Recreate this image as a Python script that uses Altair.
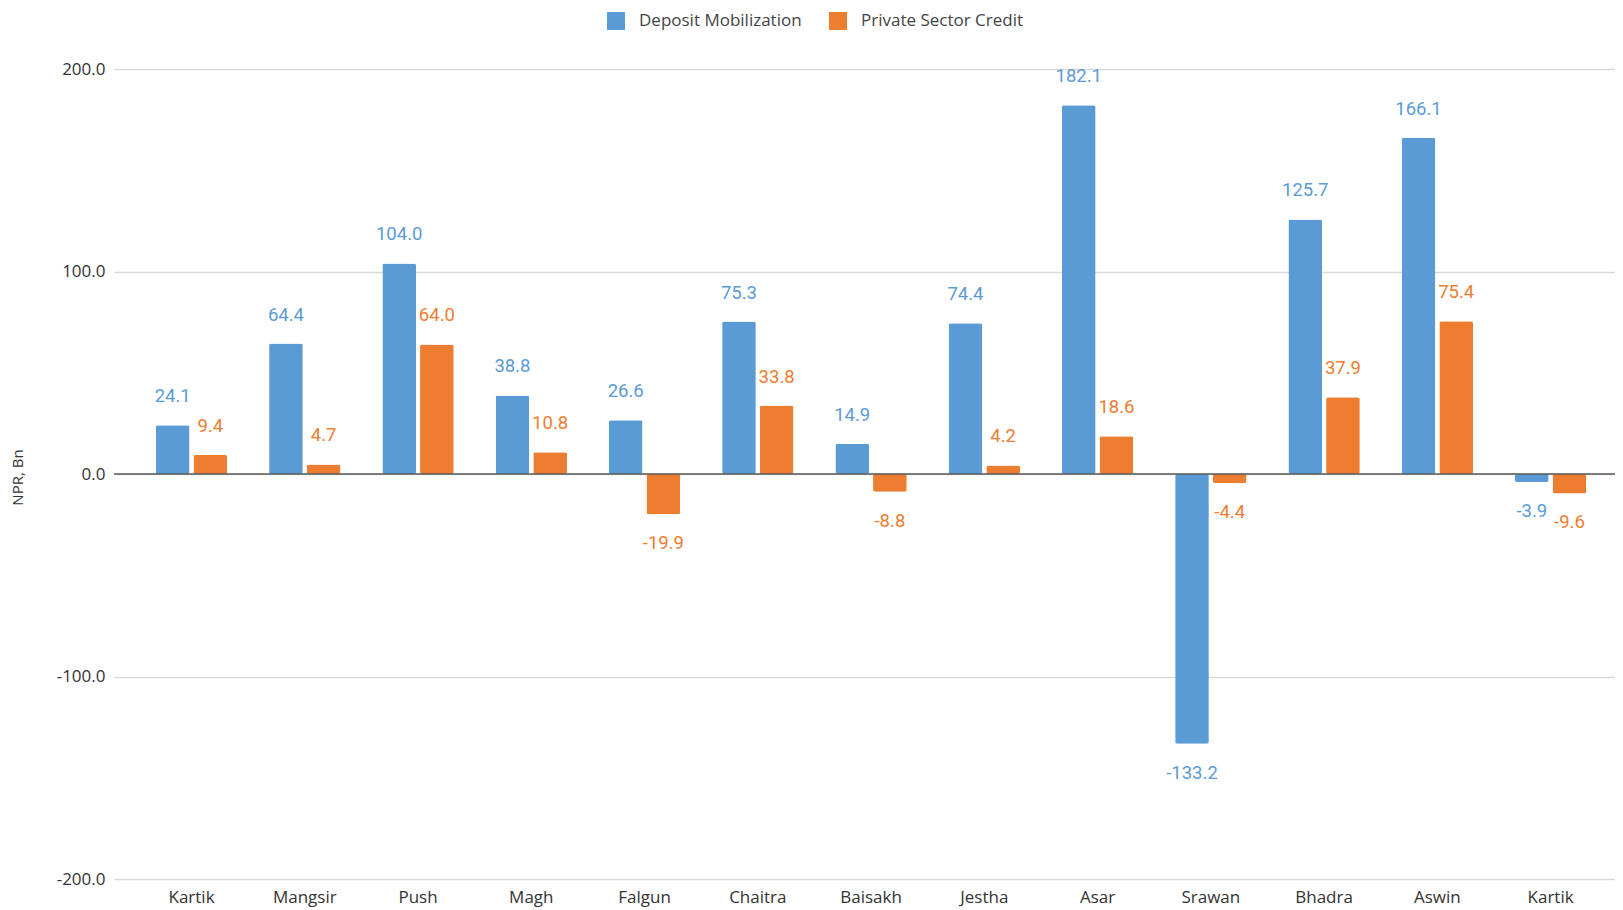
import altair as alt
import pandas as pd

months = ["Kartik", "Mangsir", "Push", "Magh", "Falgun", "Chaitra", "Baisakh",
          "Jestha", "Asar", "Srawan", "Bhadra", "Aswin", "Kartik"]
deposit = [24.1, 64.4, 104.0, 38.8, 26.6, 75.3, 14.9, 74.4, 182.1, -133.2, 125.7, 166.1, -3.9]
credit = [9.4, 4.7, 64.0, 10.8, -19.9, 33.8, -8.8, 4.2, 18.6, -4.4, 37.9, 75.4, -9.6]
series = ["Deposit Mobilization", "Private Sector Credit"]
colors = ["#5B9BD5", "#ED7D31"]
y_ticks = [-200, -100, 0, 100, 200]

keys = [f"{i:02d} {m}" for i, m in enumerate(months)]
rows = []
for i, k in enumerate(keys):
    rows.append(dict(key=k, series=series[0], value=deposit[i]))
    rows.append(dict(key=k, series=series[1], value=credit[i]))
df = pd.DataFrame(rows)

MINUS = "\u2212"

x = alt.X("key:N", sort=keys,
          scale=alt.Scale(paddingInner=0.37, paddingOuter=0.3115, align=0.593),
          axis=alt.Axis(title=None, labelExpr="slice(datum.label, 3)", labelAngle=0,
                        ticks=False, domain=False, labelPadding=10, labelFontSize=17,
                        labelColor="#333333", labelFont="Open Sans", grid=False))
xo = alt.XOffset("series:N", sort=series, scale=alt.Scale(paddingInner=0.106, paddingOuter=0))
y = alt.Y("value:Q", scale=alt.Scale(domain=[-200, 200], nice=False),
          axis=alt.Axis(values=y_ticks, title="NPR, Bn", ticks=False,
                        labelExpr=f"replace(format(datum.value, '.1f'), '{MINUS}', '-')",
                        domain=False, labelPadding=9, labelFontSize=17,
                        labelColor="#333333", labelFont="Open Sans",
                        gridColor="#D9D9D9", gridWidth=1.5))
color_scale = alt.Scale(domain=series, range=colors)

base = alt.Chart(df).transform_calculate(
    label=f"replace(format(datum.value, '.1f'), '{MINUS}', '-')"
)

bars = base.mark_bar(cornerRadius=2).encode(
    x=x, xOffset=xo, y=y,
    color=alt.Color("series:N", scale=color_scale,
                    legend=alt.Legend(orient="none", legendX=493, legendY=-57,
                                      direction="horizontal", title=None,
                                      symbolType="square", symbolSize=324,
                                      symbolStrokeWidth=0, labelFontSize=17,
                                      labelFont="Open Sans", labelColor="#444444",
                                      labelLimit=400,
                                      columnPadding=27, labelOffset=14)),
)

zero = alt.Chart(pd.DataFrame({"v": [0]})).mark_rule(color="#595959", strokeWidth=1.5).encode(
    y=alt.Y("v:Q")
)

pos_text = base.transform_filter("datum.value >= 0").mark_text(
    dy=-29, baseline="middle", font="Roboto", fontSize=18.5
).encode(
    x=x, xOffset=xo, y=y,
    text=alt.Text("label:N"),
    color=alt.Color("series:N", scale=color_scale, legend=None),
)
neg_text = base.transform_filter("datum.value < 0").mark_text(
    dy=29, baseline="middle", font="Roboto", fontSize=18.5
).encode(
    x=x, xOffset=xo, y=y,
    text=alt.Text("label:N"),
    color=alt.Color("series:N", scale=color_scale, legend=None),
)

chart = alt.layer(bars, zero, pos_text, neg_text).properties(
    width=1501, height=810,
    autosize=alt.AutoSizeParams(type="none"),
    padding={"left": 106, "top": 61, "right": 0, "bottom": 30},
    background="white",
).configure_view(stroke=None).configure_axisY(
    titleFont="Open Sans", titleFontSize=15, titleFontWeight="normal",
    titleColor="#333333", titleX=-97, titleY=408,
    titleAlign="center", titleBaseline="middle", titleAngle=270
)

chart.save("out.html", embed_options={"renderer": "svg", "actions": False})
